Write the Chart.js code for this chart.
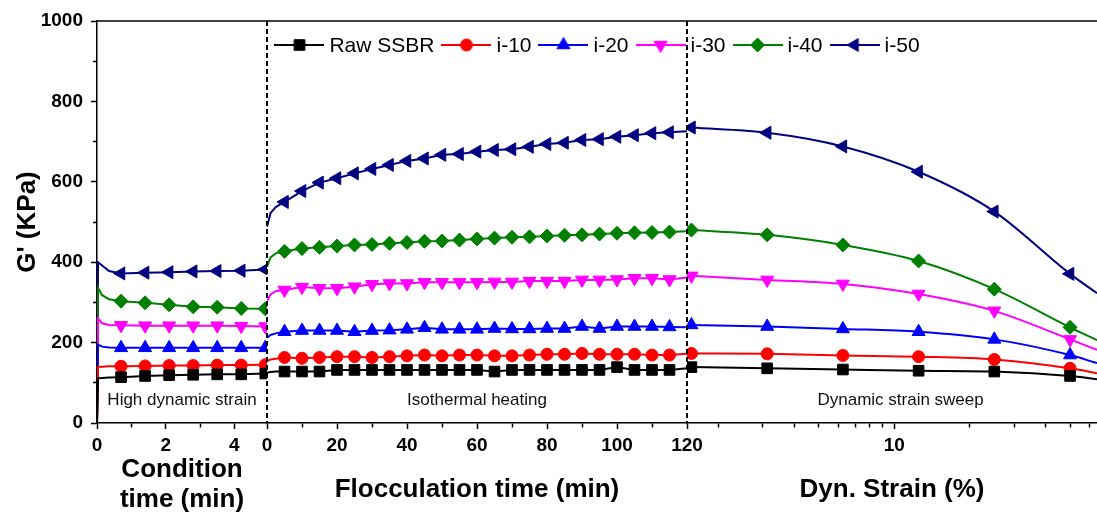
<!DOCTYPE html>
<html lang="en">
<head>
<meta charset="UTF-8">
<title>G' vs time and strain</title>
<script src="https://cdn.jsdelivr.net/npm/chart.js"></script>
<style>
  * { margin: 0; padding: 0; box-sizing: border-box; }
  body { background: #fff; }
  #wrap { width: 1097px; height: 515px; }
</style>
</head>
<body>
<div id="wrap"><canvas id="chart" width="1097" height="515"></canvas></div>
<script>
// series names
const series = ['Raw SSBR', 'i-10', 'i-20', 'i-30', 'i-40', 'i-50'];

// panel 1: condition time (min)
const condTime = [0, 0.03, 0.15, 0.35, 0.7, 1.4, 2.1, 2.8, 3.5, 4.2, 4.9];
const condRaw = [0, 111, 112, 113, 114, 117, 119, 120, 121, 121, 123];
const condI10 = [0, 140, 140, 141, 141, 142, 143, 143, 144, 144, 145];
const condI20 = [0, 195, 190, 188, 187, 187, 187, 187, 187, 187, 187];
const condI30 = [0, 260, 248, 244, 243, 242, 242, 242, 242, 241, 240];
const condI40 = [0, 336, 318, 308, 303, 299, 294, 289, 288, 285, 284];
const condI50 = [0, 400, 392, 378, 372, 374, 375, 377, 378, 379, 382];

// panel 2: flocculation time (min)
const floccTime = [0, 1, 2.5, 5, 10, 15, 20, 25, 30, 35, 40, 45, 50, 55, 60, 65, 70, 75, 80, 85, 90, 95, 100, 105, 110, 115, 120];
const floccRaw = [125, 127, 128, 128, 128, 128, 132, 132, 132, 132, 132, 132, 132, 132, 132, 128, 132, 132, 132, 132, 132, 132, 139, 132, 132, 132, 136];
const floccI10 = [155, 158, 160, 163, 161, 163, 165, 165, 163, 165, 167, 169, 167, 169, 169, 167, 167, 169, 171, 171, 173, 171, 171, 171, 169, 169, 172];
const floccI20 = [212, 219, 223, 227, 230, 230, 230, 227, 230, 231, 233, 237, 233, 233, 233, 235, 234, 234, 235, 235, 240, 235, 240, 240, 240, 239, 238];
const floccI30 = [302, 320, 328, 331, 338, 335, 335, 339, 345, 347, 347, 350, 350, 350, 350, 351, 351, 353, 353, 353, 356, 356, 357, 360, 360, 357, 362];
const floccI40 = [388, 412, 422, 427, 434, 437, 440, 443, 444, 447, 449, 452, 453, 455, 458, 460, 462, 463, 465, 467, 468, 470, 472, 473, 474, 475, 477];
const floccI50 = [488, 522, 537, 550, 577, 598, 609, 621, 632, 642, 652, 658, 667, 669, 675, 679, 681, 687, 694, 697, 704, 706, 712, 716, 721, 723, 726];

// panel 3: dynamic strain (%)
const strain = [1.5625, 3.125, 6.25, 12.5, 25, 50, 64];
const sweepRaw = [139, 136, 133, 130, 128, 117, 109];
const sweepI10 = [173, 172, 168, 165, 158, 136, 124];
const sweepI20 = [244, 240, 234, 227, 208, 169, 149];
const sweepI30 = [366, 356, 346, 321, 279, 208, 182];
const sweepI40 = [480, 468, 443, 403, 333, 238, 206];
const sweepI50 = [735, 722, 688, 625, 526, 371, 323];

// ticks
const gTicks = [0, 100, 200, 300, 400, 500, 600, 700, 800, 900, 1000];
const condTicks = [0, 1, 2, 3, 4];
const floccTicks = [0, 10, 20, 30, 40, 50, 60, 70, 80, 90, 100, 110, 120];
const strainTicks = [2, 3, 4, 5, 6, 7, 8, 9, 10, 20, 30, 40, 50, 60];
const notes = ['High dynamic strain', 'Isothermal heating', 'Dynamic strain sweep'];

const colors = ['#000000', '#ff0000', '#0000ff', '#ff00ff', '#008000', '#000080'];
const styles = ['rect', 'circle', 'triangle', 'triangle', 'rectRot', 'triangle'];
const rotations = [0, 0, 0, 180, 0, -90];
const sizes = [7.5, 6, 7.5, 7.5, 7, 7.5];

const condVals = [condRaw, condI10, condI20, condI30, condI40, condI50];
const floccVals = [floccRaw, floccI10, floccI20, floccI30, floccI40, floccI50];
const sweepVals = [sweepRaw, sweepI10, sweepI20, sweepI30, sweepI40, sweepI50];

const FONT = '"Liberation Sans", Arial, sans-serif';

// which samples carry a marker
const condMark = condTime.map(t => t >= 0.7);
const floccMark = floccTime.map(t => t >= 5 && t <= 115);
const sweepMark = strain.map(s => s <= 50);

function makeSet(i, xs, ys, marks, axisId, smooth) {
  return {
    label: series[i],
    xAxisID: axisId,
    yAxisID: 'y',
    data: xs.map((x, k) => ({x: x, y: ys[k]})),
    borderColor: colors[i],
    backgroundColor: colors[i],
    pointBorderColor: colors[i],
    pointBackgroundColor: colors[i],
    borderWidth: 2,
    pointBorderWidth: 1,
    pointStyle: styles[i],
    pointRotation: rotations[i],
    pointRadius: marks.map(m => m ? sizes[i] : 0),
    cubicInterpolationMode: smooth ? 'monotone' : 'default',
    tension: 0
  };
}

const datasets = [];
series.forEach((s, i) => datasets.push(makeSet(i, condTime, condVals[i], condMark, 'x1', false)));
series.forEach((s, i) => datasets.push(makeSet(i, floccTime, floccVals[i], floccMark, 'x2', false)));
series.forEach((s, i) => datasets.push(makeSet(i, strain, sweepVals[i], sweepMark, 'x3', true)));

// legend sample: line with marker in the middle
function makeSample(i) {
  const c = document.createElement('canvas');
  c.width = 50; c.height = 18;
  const g = c.getContext('2d');
  g.strokeStyle = colors[i];
  g.fillStyle = colors[i];
  g.lineWidth = 2;
  g.beginPath(); g.moveTo(0, 9); g.lineTo(50, 9); g.stroke();
  g.lineWidth = 1;
  if (Chart.helpers && Chart.helpers.drawPoint) {
    Chart.helpers.drawPoint(g, {pointStyle: styles[i], rotation: rotations[i], radius: sizes[i], borderWidth: 1}, 25, 9);
  } else {
    g.beginPath(); g.arc(25, 9, 6, 0, Math.PI * 2); g.fill();
  }
  return c;
}
const samples = series.map((s, i) => makeSample(i));

// legend inside the plot, one row, centred
const inlineLegend = {
  id: 'inlineLegend',
  afterDraw(chart) {
    const {ctx, chartArea: a} = chart;
    ctx.save();
    ctx.font = '21px ' + FONT;
    ctx.fillStyle = '#000';
    ctx.textBaseline = 'middle';
    ctx.textAlign = 'left';
    const sw = 50, gapText = 5, gapItem = 7;
    const widths = series.map(s => sw + gapText + ctx.measureText(s).width);
    const total = widths.reduce((p, w) => p + w, 0) + gapItem * (series.length - 1);
    let x = (a.left + a.right) / 2 - total / 2;
    const y = a.top + 24;
    series.forEach((s, i) => {
      ctx.drawImage(samples[i], x, y - 9);
      ctx.fillText(s, x + sw + gapText, y + 1);
      x += widths[i] + gapItem;
    });
    ctx.restore();
  }
};

const frame = {
  id: 'frame',
  afterDatasetsDraw(chart) {
    const {ctx, chartArea: a, scales} = chart;
    ctx.save();
    ctx.strokeStyle = '#000';
    ctx.lineWidth = 1.5;
    ctx.beginPath(); ctx.moveTo(a.left, a.top); ctx.lineTo(a.right, a.top); ctx.stroke();
    ctx.lineWidth = 2;
    ctx.setLineDash([5, 3]);
    [scales.x2.left, scales.x3.left].forEach(x => {
      ctx.beginPath(); ctx.moveTo(x, a.top); ctx.lineTo(x, a.bottom); ctx.stroke();
    });
    ctx.setLineDash([]);
    ctx.font = '17px ' + FONT;
    ctx.fillStyle = '#111';
    ctx.textAlign = 'center';
    ctx.textBaseline = 'middle';
    const y = scales.y.getPixelForValue(57);
    ctx.fillText(notes[0], (scales.x1.left + scales.x1.right) / 2, y);
    ctx.fillText(notes[1], (scales.x2.left + scales.x2.right) / 2, y);
    ctx.fillText(notes[2], scales.x3.getPixelForValue(10.6), y);
    ctx.restore();
  }
};

const tickFont = {family: FONT, size: 19, weight: 'bold'};
const titleFont = {family: FONT, size: 26, weight: 'bold', lineHeight: 1.15};
const gridOpts = {
  drawOnChartArea: false, drawTicks: true, tickLength: 6, tickWidth: 1.5, tickColor: '#000',
  tickBorderDash: ctx => (ctx.tick && ctx.tick.minor) ? [4, 100] : []
};
const borderOpts = {color: '#000', width: 1.5};

function markMinor(scale, values, isMajor) {
  scale.ticks = values.map(v => ({value: v, minor: !isMajor(v)}));
}
function fitX(scale) {
  scale.height = 92;
  scale.paddingLeft = 0;
  scale.paddingRight = 0;
}

new Chart(document.getElementById('chart'), {
  type: 'line',
  data: {datasets: datasets},
  options: {
    responsive: false,
    animation: false,
    events: [],
    layout: {autoPadding: false, padding: {top: 21, left: 0, right: 0, bottom: 0}},
    plugins: {
      tooltip: {enabled: false},
      legend: {display: false}
    },
    scales: {
      y: {
        type: 'linear', position: 'left', min: 0, max: 1000,
        afterBuildTicks: s => markMinor(s, gTicks, v => v % 200 === 0),
        afterFit: s => { s.width = 97; },
        ticks: {font: tickFont, color: '#000', padding: 8, autoSkip: false,
          callback: v => v % 200 === 0 ? String(v) : ''},
        grid: Object.assign({}, gridOpts, {tickBorderDash: ctx => (ctx.tick && ctx.tick.minor) ? [0, 2, 4, 100] : []}),
        border: borderOpts,
        title: {display: true, text: "G' (KPa)", font: titleFont, color: '#000', padding: {top: 13, bottom: 0}}
      },
      x1: {
        type: 'linear', axis: 'x', position: 'bottom', stack: 'panels', stackWeight: 170,
        min: 0, max: 4.95,
        afterBuildTicks: s => markMinor(s, condTicks, v => v % 2 === 0),
        afterFit: fitX,
        ticks: {font: tickFont, color: '#000', padding: 5, autoSkip: false, maxRotation: 0,
          callback: v => v % 2 === 0 ? String(v) : ''},
        grid: gridOpts,
        border: borderOpts,
        title: {display: true, text: ['Condition', 'time (min)'], font: titleFont, color: '#000', padding: {top: 0, bottom: 0}}
      },
      x2: {
        type: 'linear', axis: 'x', position: 'bottom', stack: 'panels', stackWeight: 420,
        min: 0, max: 120,
        afterBuildTicks: s => markMinor(s, floccTicks, v => v % 20 === 0),
        afterFit: fitX,
        ticks: {font: tickFont, color: '#000', padding: 5, autoSkip: false, maxRotation: 0,
          callback: v => v % 20 === 0 ? String(v) : ''},
        grid: gridOpts,
        border: borderOpts,
        title: {display: true, text: 'Flocculation time (min)', font: titleFont, color: '#000', padding: {top: 0, bottom: 10}}
      },
      x3: {
        type: 'logarithmic', axis: 'x', position: 'bottom', stack: 'panels', stackWeight: 410,
        min: 1.5, max: 64,
        afterBuildTicks: s => markMinor(s, strainTicks, v => v === 10),
        afterFit: fitX,
        ticks: {font: tickFont, color: '#000', padding: 5, autoSkip: false, maxRotation: 0,
          callback: v => v === 10 ? '10' : ''},
        grid: gridOpts,
        border: borderOpts,
        title: {display: true, text: 'Dyn. Strain (%)', font: titleFont, color: '#000', padding: {top: 0, bottom: 10}}
      }
    }
  },
  plugins: [frame, inlineLegend]
});
</script>
</body>
</html>
